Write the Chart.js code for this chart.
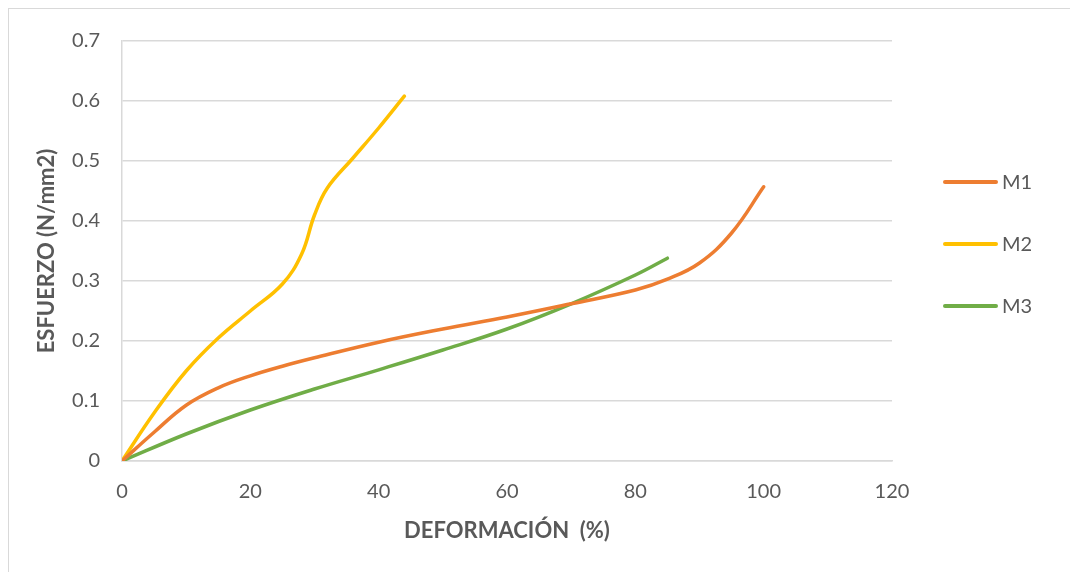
<!DOCTYPE html>
<html>
<head>
<meta charset="utf-8">
<script src="https://cdn.jsdelivr.net/npm/chart.js@4"></script>
<style>
  html, body { margin: 0; padding: 0; background: #fff; }
  #wrap { position: relative; width: 1070px; height: 572px; overflow: hidden; }
  #frame { position: absolute; left: 8px; top: 8px; width: 1100px; height: 600px;
           border-left: 1px solid #d9d9d9; border-top: 1px solid #d9d9d9; }
  canvas { position: absolute; left: 0; top: 0; }
</style>
</head>
<body>
<div id="wrap">
  <div id="frame"></div>
  <canvas id="grafico" width="1070" height="572"></canvas>
</div>
<script>
// datos (deformacion %, esfuerzo N/mm2)
var m1X = [0, 5, 10, 15, 20, 25, 30, 40, 50, 60, 70, 80, 85, 90, 95, 100];
var m1Y = [0, 0.048, 0.093, 0.122, 0.142, 0.158, 0.172, 0.198, 0.22, 0.24, 0.262, 0.285, 0.303, 0.33, 0.38, 0.457];

var m2X = [0, 5, 10, 15, 20, 25, 28, 30, 32, 36, 40, 44];
var m2Y = [0, 0.08, 0.15, 0.205, 0.25, 0.295, 0.345, 0.41, 0.455, 0.505, 0.555, 0.608];

var m3X = [0, 10, 20, 30, 40, 50, 60, 70, 80, 85];
var m3Y = [0, 0.045, 0.085, 0.12, 0.152, 0.185, 0.22, 0.262, 0.31, 0.338];

var series = ['M1', 'M2', 'M3'];
var colores = ['#ED7D31', '#FFC000', '#70AD47'];

function puntos(xs, ys) {
  var out = [];
  for (var i = 0; i < xs.length; i++) out.push({ x: xs[i], y: ys[i] });
  return out;
}

var valores = [puntos(m1X, m1Y), puntos(m2X, m2Y), puntos(m3X, m3Y)];
var datasets = [];
for (var i = 0; i < series.length; i++) {
  datasets.push({
    label: series[i],
    data: valores[i],
    borderColor: colores[i],
    backgroundColor: colores[i],
    borderWidth: 3.5,
    borderCapStyle: 'round',
    pointRadius: 0,
    showLine: true,
    tension: 0.4,
    fill: false
  });
}

var gris = '#595959';
var fuente = 'Lato, "Open Sans", sans-serif';

// leyenda dibujada a mano a la derecha, como en Excel
var leyenda = {
  id: 'leyenda',
  afterDraw: function (chart) {
    var ctx = chart.ctx;
    ctx.save();
    ctx.font = '20px ' + fuente;
    ctx.textBaseline = 'middle';
    chart.data.datasets.forEach(function (ds, i) {
      var y = 182 + i * 62;
      ctx.strokeStyle = ds.borderColor;
      ctx.lineWidth = 4;
      ctx.lineCap = 'round';
      ctx.beginPath();
      ctx.moveTo(945, y);
      ctx.lineTo(996, y);
      ctx.stroke();
      ctx.fillStyle = gris;
      ctx.fillText(ds.label, 1002, y + 1);
    });
    ctx.restore();
  }
};

var ctx = document.getElementById('grafico');
var grafico = new Chart(ctx, {
  type: 'scatter',
  data: { datasets: datasets },
  options: {
    responsive: false,
    animation: false,
    layout: { padding: { top: 41, right: 178, left: 0, bottom: 0 } },
    plugins: { legend: { display: false }, tooltip: { enabled: false } },
    scales: {
      x: {
        type: 'linear',
        min: 0, max: 120,
        afterFit: function (s) { s.height = 111; },
        ticks: { stepSize: 20, color: gris, font: { family: fuente, size: 20 }, padding: 19, maxRotation: 0 },
        grid: { display: false, drawTicks: false },
        border: { color: '#d9d9d9', width: 1.5 },
        title: { display: true, text: 'DEFORMACIÓN  (%)', color: gris,
                 font: { family: fuente, size: 22, weight: 'bold' }, padding: { top: 0, bottom: 28 } }
      },
      y: {
        min: 0, max: 0.7,
        afterFit: function (s) { s.width = 122; },
        ticks: { stepSize: 0.1, color: gris, font: { family: fuente, size: 20 }, padding: 22,
                 callback: function (v) { return Math.round(v * 10) / 10; } },
        grid: { color: '#d9d9d9', lineWidth: 1.5, drawTicks: false },
        border: { color: '#d9d9d9', width: 1.5 },
        title: { display: true, text: 'ESFUERZO (N/mm2)', color: gris,
                 font: { family: fuente, size: 22, weight: 'bold' }, padding: { top: 34, bottom: 0 } }
      }
    }
  },
  plugins: [leyenda]
});
</script>
</body>
</html>
